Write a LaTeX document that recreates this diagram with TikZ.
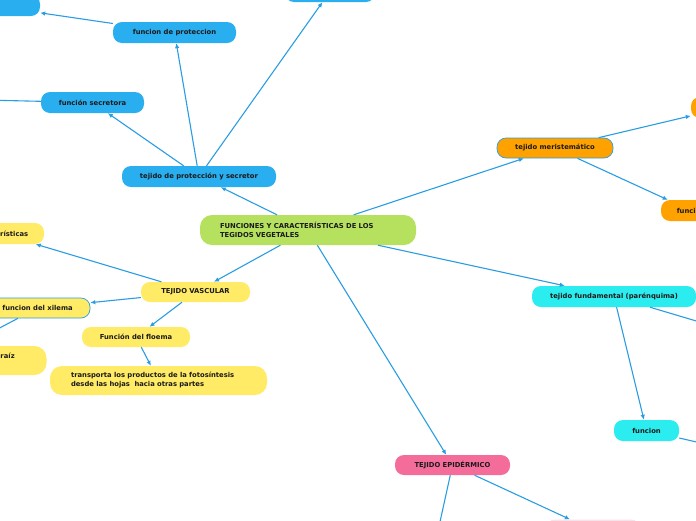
\documentclass[tikz,border=0pt]{standalone}
\usepackage{fontspec}
\setmainfont{DejaVu Sans}
\usetikzlibrary{arrows.meta}
\definecolor{cblue}{HTML}{29AEEF}
\definecolor{cgreen}{HTML}{B5E15F}
\definecolor{corange}{HTML}{FFA200}
\definecolor{cyellow}{HTML}{FFEB66}
\definecolor{ccyan}{HTML}{2BECEE}
\definecolor{cpink}{HTML}{F46D9A}
\definecolor{cpale}{HTML}{F9E0E9}
\definecolor{cline}{HTML}{2A9DE2}
\definecolor{ctext}{HTML}{1A1A1A}
\tikzset{
  box/.style={rectangle, rounded corners=9pt, inner sep=0pt, minimum height=21pt,
    font=\fontsize{6.8}{9}\selectfont\bfseries, text=ctext, align=center},
  bigbox/.style={box, rounded corners=12pt, minimum height=29pt, inner xsep=21pt,
    text width=175pt, align=left},
  bluebox/.style={box, fill=cblue},
  greenbox/.style={bigbox, fill=cgreen},
  orangebox/.style={box, fill=corange},
  yellowbox/.style={box, fill=cyellow},
  cyanbox/.style={box, fill=ccyan},
  pinkbox/.style={box, fill=cpink},
  palebox/.style={box, fill=cpale},
  rimmed/.style={draw=cline, line width=0.7pt},
  conn/.style={draw=cline, line width=1.1pt, -{Latex[length=5pt,width=4.5pt]}},
}
\begin{document}
\begin{tikzpicture}[x=1pt,y=-1pt]
\useasboundingbox (0,0) rectangle (696,520);
\clip (0,0) rectangle (696,520);
% nodes
\node[bluebox, minimum width=100pt] (tl) at (-10,5.5) {};
\node[bluebox, minimum width=123pt] (fprot) at (174.5,32.5) {funcion de proteccion};
\node[bluebox, minimum width=90pt] (top) at (330,-8.5) {};
\node[bluebox, minimum width=103pt] (fsec) at (92.5,102.5) {función secretora};
\node[bluebox, minimum width=154pt] (tps) at (199,176.5) {tejido de protección y secretor};
\node[greenbox, minimum height=30pt, text width=176pt, inner xsep=20pt] (center) at (308,230) {FUNCIONES Y CARACTERÍSTICAS DE LOS\\TEGIDOS VEGETALES};
\node[orangebox, rimmed, minimum width=116pt, minimum height=20pt] (mer) at (555,148) {tejido meristemático};
\node[orangebox, minimum width=70pt] (or1) at (726,107.5) {};
\node[orangebox, minimum width=60pt] (or2) at (691,210.5) {funcion};
\node[yellowbox, minimum width=88pt] (car) at (0,233.5) {características};
\node[yellowbox, minimum width=109pt, minimum height=20pt] (vasc) at (195.5,292) {TEJIDO VASCULAR};
\node[yellowbox, rimmed, minimum width=105pt, minimum height=20pt] (xil) at (37.5,308) {funcion del xilema};
\node[yellowbox, minimum width=108pt, minimum height=20pt] (flo) at (136,337) {Función del floema};
\node[bigbox, fill=cyellow] (raiz) at (-62,360.5) {\hspace*{150pt}raíz\\\mbox{}};
\node[bigbox, fill=cyellow] (trans) at (158.5,380.5) {transporta los productos de la fotosíntesis\\desde las hojas\ \ hacia otras partes};
\node[cyanbox, minimum width=164pt] (fund) at (614,296.5) {tejido fundamental (parénquima)};
\node[cyanbox, minimum width=65pt] (func) at (646.5,430.5) {funcion};
\node[pinkbox, minimum width=115pt, minimum height=20pt] (epi) at (452.5,465) {TEJIDO EPIDÉRMICO};
\node[palebox, minimum width=94pt] (pale) at (593,530) {};
% free ends
\coordinate (cL) at (-60,99);
\coordinate (cR1) at (740,334);
\coordinate (cR2) at (740,452);
\coordinate (cB) at (436,540);
% connectors
\draw[conn] (center) -- (tps);
\draw[conn] (tps) -- (fsec);
\draw[conn] (tps) -- (fprot);
\draw[conn] (tps) -- (top);
\draw[conn] (fprot) -- (tl);
\draw[conn] (fsec) -- (cL);
\draw[conn] (center) -- (mer);
\draw[conn] (mer) -- (or1);
\draw[conn] (mer) -- (or2);
\draw[conn] (center) -- (fund);
\draw[conn] (fund) -- (func);
\draw[conn] (fund) -- (cR1);
\draw[conn] (func) -- (cR2);
\draw[conn] (center) -- (epi);
\draw[conn] (epi) -- (cB);
\draw[conn] (epi) -- (pale);
\draw[conn] (center) -- (vasc);
\draw[conn] (vasc) -- (car);
\draw[conn] (vasc) -- (xil);
\draw[conn] (vasc) -- (flo);
\draw[conn] (flo) -- (trans);
\draw[conn] (xil) -- (raiz);
\end{tikzpicture}
\end{document}
